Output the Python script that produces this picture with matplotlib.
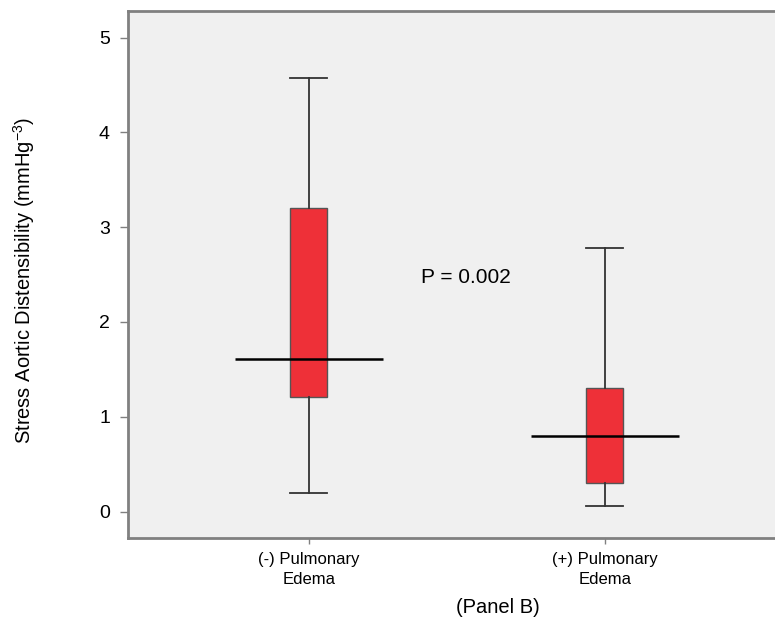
import matplotlib
matplotlib.use("Agg")
import matplotlib.pyplot as plt

# ---- данные ----
groups = ["(-) Pulmonary\nEdema", "(+) Pulmonary\nEdema"]
whisker_lo = [0.20, 0.06]
q1 = [1.21, 0.30]
median = [1.61, 0.80]
q3 = [3.20, 1.30]
whisker_hi = [4.57, 2.78]
p_text = "P = 0.002"
p_pos = (1.53, 2.47)

plt.rcParams["font.family"] = ["Liberation Sans", "DejaVu Sans"]
plt.rcParams["mathtext.fontset"] = "custom"
plt.rcParams["mathtext.rm"] = "Liberation Sans"
plt.rcParams["mathtext.it"] = "Liberation Sans"

fig = plt.figure(figsize=(7.75, 6.19), dpi=100)
# ось уходит за правый край (картинка обрезана)
ax = fig.add_axes([0.1652, 0.1309, 0.955, 0.8514])
ax.set_facecolor("#f0f0f0")

positions = list(range(1, len(groups) + 1))
stats = []
for i in range(len(groups)):
    stats.append({"whislo": whisker_lo[i], "q1": q1[i], "med": median[i],
                  "q3": q3[i], "whishi": whisker_hi[i], "fliers": []})

ax.bxp(stats, positions=positions, widths=0.125, patch_artist=True,
       showfliers=False,
       boxprops=dict(facecolor="#ee3038", edgecolor="#555555", linewidth=1.0),
       whiskerprops=dict(color="#333333", linewidth=1.3),
       capprops=dict(color="#333333", linewidth=1.3),
       capwidths=0.125,
       medianprops=dict(linewidth=0))

# медиана шире коробки
ax.hlines(median, [p - 0.25 for p in positions], [p + 0.25 for p in positions],
          colors="black", linewidth=1.8, zorder=5)

ax.text(p_pos[0], p_pos[1], p_text, fontsize=15, ha="center", va="center")

ax.set_xlim(0.389, 2.889)
ax.set_ylim(-0.278, 5.28)
ax.set_yticks([0, 1, 2, 3, 4, 5])
ax.set_xticks(positions)
ax.set_xticklabels(groups, fontsize=12, linespacing=1.4)
ax.tick_params(axis="y", labelsize=14, length=6, width=1, color="#808080", pad=7)
ax.tick_params(axis="x", length=4, width=1, color="#808080", pad=6)

for s in ["left", "bottom", "top"]:
    ax.spines[s].set_color("#808080")
    ax.spines[s].set_linewidth(2)
ax.spines["right"].set_visible(False)

fig.text(24 / 775, 1 - 280 / 619,
         r"Stress Aortic Distensibility (mmHg$^{\mathregular{-3}}$)",
         fontsize=14.5, rotation=90, ha="center", va="center")
ax.set_xlabel("(Panel B)", fontsize=14.5, labelpad=8)

fig.savefig("out.png", dpi=100)
